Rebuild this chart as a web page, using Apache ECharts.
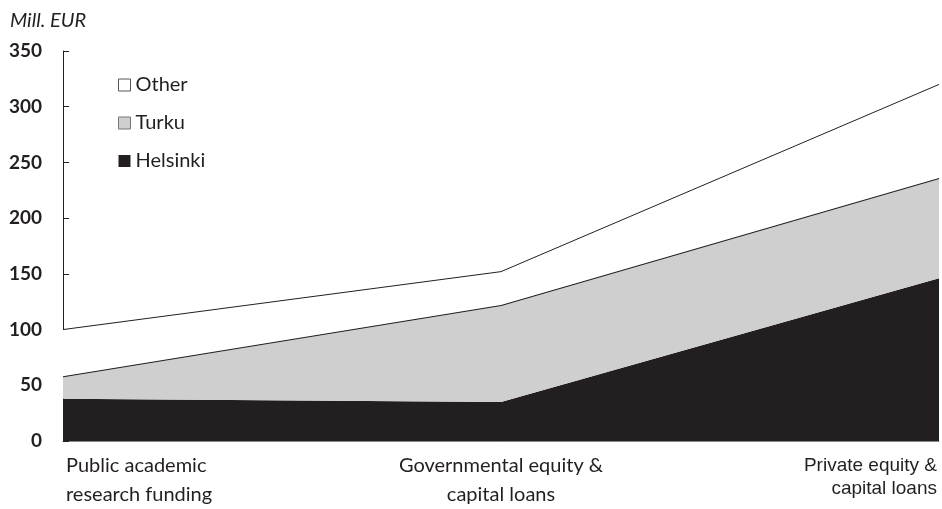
<!DOCTYPE html>
<html><head><meta charset="utf-8">
<script src="https://cdn.jsdelivr.net/npm/echarts@6/dist/echarts.min.js"></script>
<style>html,body{margin:0;padding:0;background:#fff}#c{width:942px;height:509px}</style>
</head><body><div id="c"></div>
<script>
const categories = ['Public academic\nresearch funding', 'Governmental equity &\ncapital loans', 'Private equity &\ncapital loans'];
const helsinki = [38, 35, 146];
const turku = [20, 87, 90];
const other = [42, 30, 84];
const yTicks = [0, 50, 100, 150, 200, 250, 300, 350];

const dark = '#231f20';
const gray = '#cfcfcf';
const chart = echarts.init(document.getElementById('c'));
const font = 'Lato, "Open Sans", sans-serif';
chart.setOption({
  animation: false,
  title: { text: 'Mill. EUR', left: 5, top: 6, textStyle: { fontFamily: font, fontStyle: 'italic', fontWeight: 'normal', fontSize: 20, color: dark } },
  legend: {
    orient: 'vertical', left: 113, top: 70, itemGap: 18, itemWidth: 12, itemHeight: 12, icon: 'rect',
    textStyle: { fontFamily: font, fontSize: 20, color: dark, padding: [0, 0, 0, 0] },
    data: [
      { name: 'Other', itemStyle: { color: '#fff', borderColor: '#555', borderWidth: 1 } },
      { name: 'Turku', itemStyle: { color: gray, borderColor: '#777', borderWidth: 1 } },
      { name: 'Helsinki', itemStyle: { color: dark, borderWidth: 0 } }
    ]
  },
  grid: { left: 63, right: 0, top: 51, bottom: 66, containLabel: false },
  xAxis: {
    type: 'category', boundaryGap: false,
    data: [
      { value: categories[0], textStyle: { align: 'left', padding: [0, 0, 0, 3] } },
      { value: categories[1], textStyle: { align: 'center' } },
      { value: categories[2], textStyle: { align: 'right', fontFamily: '"Liberation Sans", Arial, sans-serif', fontSize: 19, lineHeight: 23, padding: [3, 2, 0, 0] } }
    ],
    axisLine: { show: true, lineStyle: { color: '#888', width: 1 } },
    axisTick: { show: false },
    axisLabel: { interval: 0, margin: 10, fontFamily: font, fontSize: 20, lineHeight: 29, color: dark }
  },
  yAxis: {
    type: 'value', min: yTicks[0], max: yTicks[yTicks.length - 1], interval: 50,
    axisLine: { show: true, lineStyle: { color: dark, width: 1 } },
    axisTick: { show: true, inside: true, length: 6, lineStyle: { color: dark } },
    splitLine: { show: false },
    axisLabel: { margin: 21, fontFamily: font, fontWeight: 'bold', fontSize: 19, color: dark }
  },
  series: [
    { name: 'Helsinki', type: 'line', stack: 't', data: helsinki, symbol: 'none', lineStyle: { width: 0 }, itemStyle: { color: dark }, areaStyle: { color: dark, opacity: 1 }, z: 1 },
    { name: 'Turku', type: 'line', stack: 't', data: turku, symbol: 'none', lineStyle: { width: 1.8, color: dark }, itemStyle: { color: gray }, areaStyle: { color: gray, opacity: 1 }, z: 2 },
    { name: 'Other', type: 'line', stack: 't', data: other, symbol: 'none', lineStyle: { width: 1, color: dark }, itemStyle: { color: '#fff' }, areaStyle: { color: '#fff', opacity: 1 }, z: 3 }
  ]
});
</script></body></html>
